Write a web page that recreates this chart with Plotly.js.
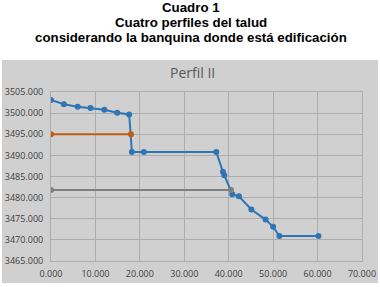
<!DOCTYPE html>
<html>
<head>
<meta charset="utf-8">
<script src="https://cdn.plot.ly/plotly-3.0.1.min.js"></script>
<style>html,body{margin:0;padding:0;background:#fff;}#chart{width:380px;height:287px;}</style>
</head>
<body>
<div id="chart"></div>
<script>
// Perfil II data (distance, elevation)
var perfilX = [0, 2.9, 6.0, 8.9, 12.0, 14.9, 17.6, 18.2, 20.9, 37.2, 38.7, 39.0, 40.8, 42.3, 45.1, 48.3, 50.0, 51.4, 60.2];
var perfilY = [3503.1, 3502.1, 3501.5, 3501.2, 3500.8, 3500.1, 3499.7, 3490.8, 3490.8, 3490.8, 3486.1, 3485.3, 3480.8, 3480.3, 3477.2, 3474.8, 3473.1, 3470.9, 3470.9];
var naranjaX = [0, 18.0];
var naranjaY = [3495, 3495];
var grisX = [0, 40.5];
var grisY = [3481.8, 3481.8];

var headerLines = ["Cuadro 1", "Cuatro perfiles del talud", "considerando la banquina donde está edificación"];
var chartTitle = "Perfil II";

var L = 51, R = 18, T = 92, B = 26, W = 380, H = 287;
var pw = W - L - R, ph = H - T - B;
function px(x) { return (x - L) / pw; }
function py(y) { return (H - B - y) / ph; }

var traces = [
  {x: perfilX, y: perfilY, mode: 'lines+markers', line: {color: '#2E75B6', width: 2}, marker: {color: '#2E75B6', size: 6}},
  {x: naranjaX, y: naranjaY, mode: 'lines+markers', line: {color: '#C55A11', width: 2}, marker: {color: '#C55A11', size: 6}},
  {x: grisX, y: grisY, mode: 'lines+markers', line: {color: '#7F7F7F', width: 2}, marker: {color: '#7F7F7F', size: 6}}
];

var headerY = [7, 22, 37.5];
var annotations = headerLines.map(function (t, i) {
  return {text: '<b>' + t + '</b>', xref: 'paper', yref: 'paper', x: px(190.5), y: py(headerY[i]),
    xanchor: 'center', yanchor: 'middle', showarrow: false,
    font: {family: 'Liberation Sans, Arial, sans-serif', size: 13.3, color: '#000'}};
});
annotations.push({text: chartTitle, xref: 'paper', yref: 'paper', x: px(192), y: py(72),
  xanchor: 'center', yanchor: 'middle', showarrow: false,
  font: {family: 'Open Sans, sans-serif', size: 14, color: '#595959'}});

var layout = {
  width: W, height: H,
  margin: {l: L, r: R, t: T, b: B, pad: 0},
  paper_bgcolor: '#ffffff',
  plot_bgcolor: 'rgba(0,0,0,0)',
  showlegend: false,
  shapes: [{type: 'rect', xref: 'paper', yref: 'paper', layer: 'below',
    x0: px(2), x1: px(378), y0: py(283), y1: py(60),
    fillcolor: '#D0D0D0', line: {width: 0}}],
  xaxis: {range: [0, 70], dtick: 10, tick0: 0, tickformat: '.3f',
    showgrid: true, gridcolor: '#ADADAD', gridwidth: 1, zeroline: false,
    showline: true, linecolor: '#ADADAD', linewidth: 1, mirror: true,
    ticks: '', ticklabelstandoff: 4,
    tickfont: {family: 'Open Sans, sans-serif', size: 9, color: '#404040'}},
  yaxis: {range: [3465, 3505], dtick: 5, tick0: 3465, tickformat: '.3f',
    showgrid: true, gridcolor: '#ADADAD', gridwidth: 1, zeroline: false,
    showline: true, linecolor: '#ADADAD', linewidth: 1, mirror: true,
    ticks: '', ticklabelstandoff: 5,
    tickfont: {family: 'Open Sans, sans-serif', size: 9, color: '#404040'}},
  annotations: annotations
};

Plotly.newPlot('chart', traces, layout, {displayModeBar: false, staticPlot: true});
</script>
</body>
</html>
